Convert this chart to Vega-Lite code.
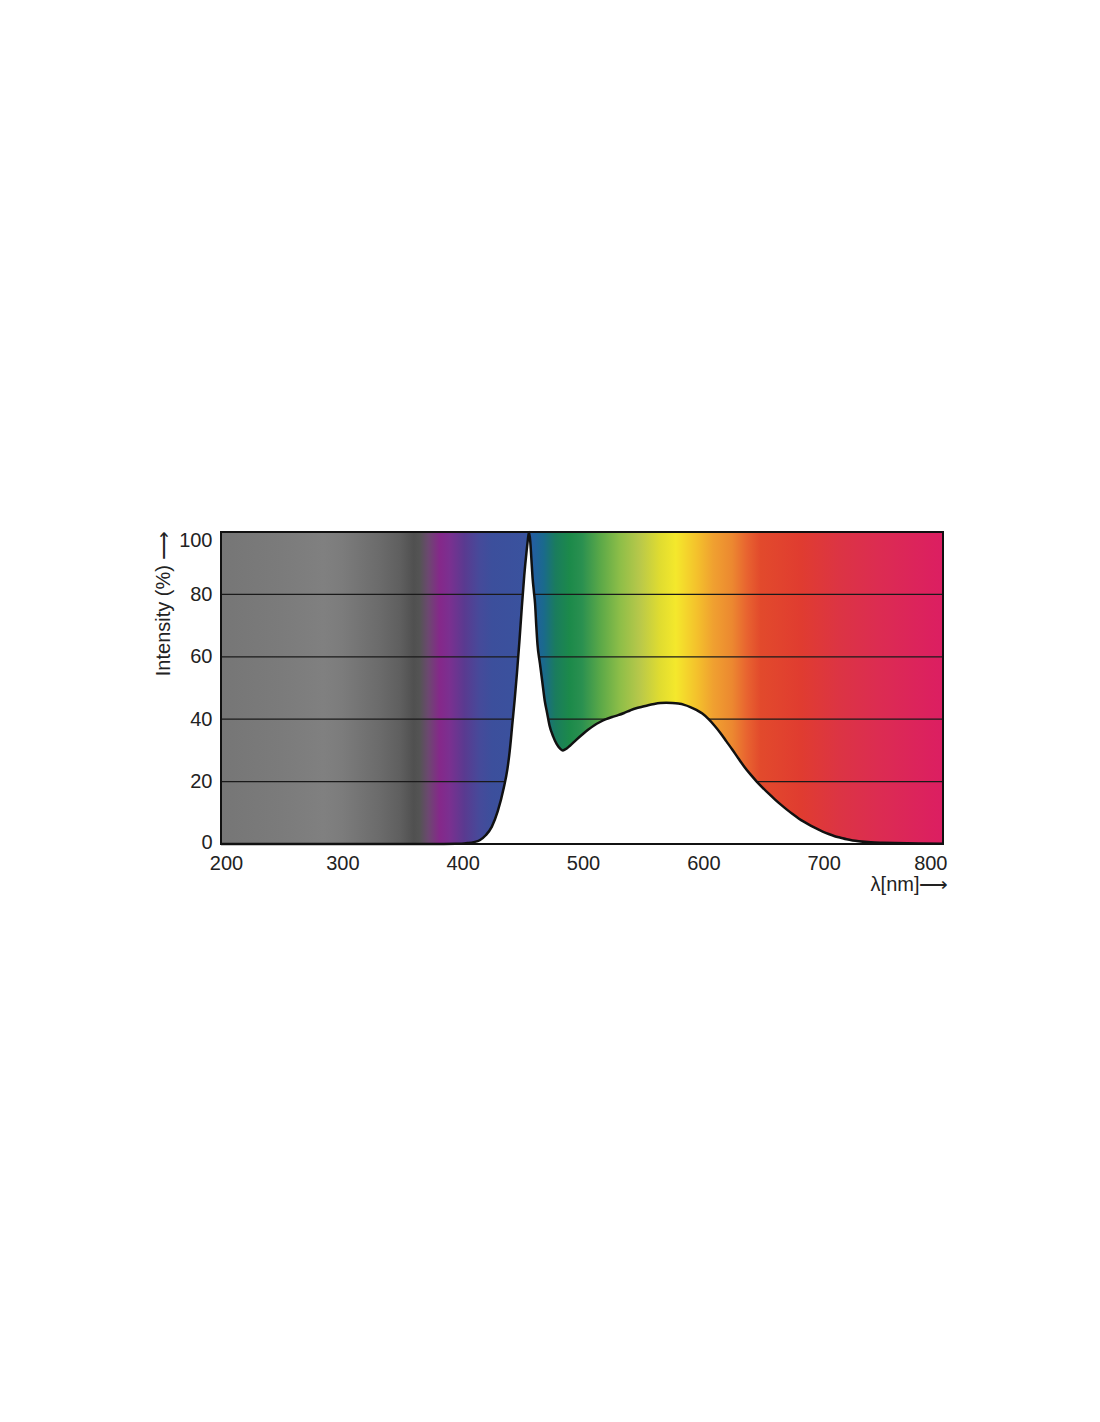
{
  "$schema": "https://vega.github.io/schema/vega-lite/v6.json",
  "width": 722,
  "height": 312,
  "autosize": {"type": "none"},
  "padding": {"left": 221, "top": 532, "right": 157, "bottom": 578},
  "background": "white",
  "config": {
    "view": {"stroke": null},
    "font": "Liberation Sans",
    "axis": {"labelFont": "Liberation Sans", "titleFont": "Liberation Sans", "labelColor": "#222", "titleColor": "#222", "labelFontSize": 20, "titleFontSize": 20, "titleFontWeight": "normal", "grid": false, "ticks": false, "domain": false}
  },
  "datasets": {
    "frame": [{"x0": 200, "x1": 800, "y0": 0, "y1": 100}],
    "grid": [{"v": 20}, {"v": 40}, {"v": 60}, {"v": 80}],
    "spectrum": [
      {"nm": 200, "pct": 0}, {"nm": 380, "pct": 0}, {"nm": 395, "pct": 0.05}, {"nm": 400, "pct": 0.1},
      {"nm": 405, "pct": 0.3}, {"nm": 410, "pct": 0.6}, {"nm": 415, "pct": 1.2}, {"nm": 420, "pct": 2.8},
      {"nm": 425, "pct": 5.5}, {"nm": 430, "pct": 10.5}, {"nm": 435, "pct": 18}, {"nm": 438, "pct": 24},
      {"nm": 440, "pct": 30}, {"nm": 442, "pct": 38}, {"nm": 444, "pct": 46}, {"nm": 446, "pct": 55},
      {"nm": 448, "pct": 65}, {"nm": 450, "pct": 76}, {"nm": 452, "pct": 86}, {"nm": 454, "pct": 94},
      {"nm": 455, "pct": 97.5}, {"nm": 456, "pct": 100}, {"nm": 457, "pct": 97}, {"nm": 458, "pct": 91},
      {"nm": 459, "pct": 85}, {"nm": 460, "pct": 81}, {"nm": 461, "pct": 77}, {"nm": 462, "pct": 70},
      {"nm": 463, "pct": 64}, {"nm": 465, "pct": 58}, {"nm": 467, "pct": 52}, {"nm": 469, "pct": 46},
      {"nm": 471, "pct": 42}, {"nm": 473, "pct": 38}, {"nm": 476, "pct": 34.5}, {"nm": 479, "pct": 32},
      {"nm": 482, "pct": 30.5}, {"nm": 484, "pct": 30}, {"nm": 486, "pct": 30.3}, {"nm": 490, "pct": 31.5},
      {"nm": 495, "pct": 33.3}, {"nm": 500, "pct": 35}, {"nm": 505, "pct": 36.6}, {"nm": 510, "pct": 38},
      {"nm": 515, "pct": 39.1}, {"nm": 520, "pct": 40}, {"nm": 525, "pct": 40.7}, {"nm": 530, "pct": 41.3},
      {"nm": 535, "pct": 42}, {"nm": 540, "pct": 42.8}, {"nm": 545, "pct": 43.5}, {"nm": 550, "pct": 44},
      {"nm": 555, "pct": 44.5}, {"nm": 560, "pct": 44.9}, {"nm": 565, "pct": 45.2}, {"nm": 570, "pct": 45.3},
      {"nm": 575, "pct": 45.2}, {"nm": 580, "pct": 45}, {"nm": 585, "pct": 44.6}, {"nm": 590, "pct": 43.9},
      {"nm": 595, "pct": 43}, {"nm": 600, "pct": 41.8}, {"nm": 605, "pct": 40.1}, {"nm": 610, "pct": 38},
      {"nm": 615, "pct": 35.6}, {"nm": 620, "pct": 32.9}, {"nm": 625, "pct": 30.2}, {"nm": 630, "pct": 27.4},
      {"nm": 635, "pct": 24.7}, {"nm": 640, "pct": 22.3}, {"nm": 645, "pct": 20.1}, {"nm": 650, "pct": 18.1},
      {"nm": 655, "pct": 16.2}, {"nm": 660, "pct": 14.4}, {"nm": 665, "pct": 12.7}, {"nm": 670, "pct": 11.1},
      {"nm": 675, "pct": 9.6}, {"nm": 680, "pct": 8.2}, {"nm": 685, "pct": 7}, {"nm": 690, "pct": 5.9},
      {"nm": 695, "pct": 4.9}, {"nm": 700, "pct": 4}, {"nm": 705, "pct": 3.2}, {"nm": 710, "pct": 2.5},
      {"nm": 715, "pct": 2}, {"nm": 720, "pct": 1.5}, {"nm": 725, "pct": 1.15}, {"nm": 730, "pct": 0.9},
      {"nm": 740, "pct": 0.55}, {"nm": 750, "pct": 0.4}, {"nm": 760, "pct": 0.3}, {"nm": 780, "pct": 0.15},
      {"nm": 800, "pct": 0.05}
    ]
  },
  "layer": [
    {
      "data": {"name": "frame"},
      "mark": {
        "type": "rect",
        "fill": {
          "gradient": "linear", "x1": 0, "y1": 0, "x2": 1, "y2": 0,
          "stops": [
            {"offset": 0, "color": "#767676"},
            {"offset": 0.083, "color": "#7b7b7b"},
            {"offset": 0.142, "color": "#808080"},
            {"offset": 0.167, "color": "#7c7c7c"},
            {"offset": 0.192, "color": "#747474"},
            {"offset": 0.22, "color": "#6b6b6b"},
            {"offset": 0.248, "color": "#5f5f5f"},
            {"offset": 0.267, "color": "#505050"},
            {"offset": 0.275, "color": "#545454"},
            {"offset": 0.287, "color": "#6c4870"},
            {"offset": 0.303, "color": "#85288a"},
            {"offset": 0.317, "color": "#7a3090"},
            {"offset": 0.337, "color": "#5a3a90"},
            {"offset": 0.358, "color": "#464a9a"},
            {"offset": 0.375, "color": "#3c4f9c"},
            {"offset": 0.42, "color": "#3a529e"},
            {"offset": 0.433, "color": "#2260a0"},
            {"offset": 0.447, "color": "#1a6a8c"},
            {"offset": 0.463, "color": "#1a7c5e"},
            {"offset": 0.483, "color": "#1c8a4a"},
            {"offset": 0.5, "color": "#2a9050"},
            {"offset": 0.525, "color": "#5aa848"},
            {"offset": 0.553, "color": "#8ebe48"},
            {"offset": 0.58, "color": "#b8c84a"},
            {"offset": 0.608, "color": "#e0dc30"},
            {"offset": 0.63, "color": "#f4e82c"},
            {"offset": 0.66, "color": "#f4c02c"},
            {"offset": 0.682, "color": "#f0a030"},
            {"offset": 0.708, "color": "#ec8830"},
            {"offset": 0.728, "color": "#e86430"},
            {"offset": 0.747, "color": "#e24a2c"},
            {"offset": 0.803, "color": "#e03c30"},
            {"offset": 0.857, "color": "#dc3444"},
            {"offset": 0.912, "color": "#dc2c52"},
            {"offset": 1, "color": "#dc1e62"}
          ]
        }
      },
      "encoding": {
        "x": {"field": "x0", "type": "quantitative", "scale": {"domain": [200, 800], "nice": false},
          "axis": {"values": [200, 300, 400, 500, 600, 700, 800], "title": "λ[nm]⟶", "labelPadding": 9,
            "labelAlign": {"condition": {"test": "datum.value == 800", "value": "right"}, "value": "center"},
            "labelOffset": {"condition": [{"test": "datum.value == 800", "value": 4}, {"test": "datum.value == 200", "value": 5}], "value": 1},
            "titleAnchor": "end", "titleAlign": "right", "titleX": 727, "titleY": 46, "titleBaseline": "alphabetic"}},
        "x2": {"field": "x1"},
        "y": {"field": "y0", "type": "quantitative", "scale": {"domain": [0, 100], "nice": false},
          "axis": {"values": [0, 20, 40, 60, 80, 100], "title": "Intensity (%) ⟶", "labelPadding": 9,
            "labelBaseline": {"condition": {"test": "datum.value == 100", "value": "top"}, "value": "middle"},
            "labelOffset": {"condition": [{"test": "datum.value == 100", "value": -2}, {"test": "datum.value == 0", "value": -2}], "value": 0},
            "titleAnchor": "end", "titleAlign": "right", "titleX": -58, "titleY": -2, "titleBaseline": "middle", "titleAngle": -90}},
        "y2": {"field": "y1"}
      }
    },
    {
      "data": {"name": "grid"},
      "mark": {"type": "rule", "color": "#1a1a1a", "strokeWidth": 1.2},
      "encoding": {"y": {"field": "v", "type": "quantitative"}}
    },
    {
      "data": {"name": "spectrum"},
      "mark": {"type": "area", "fill": "white", "opacity": 1, "fillOpacity": 1, "interpolate": "monotone", "line": {"stroke": "#111", "strokeWidth": 2.5, "interpolate": "monotone"}},
      "encoding": {
        "x": {"field": "nm", "type": "quantitative"},
        "y": {"field": "pct", "type": "quantitative"}
      }
    },
    {
      "data": {"name": "frame"},
      "mark": {"type": "rect", "filled": false, "stroke": "#111", "strokeWidth": 2},
      "encoding": {
        "x": {"field": "x0", "type": "quantitative"},
        "x2": {"field": "x1"},
        "y": {"field": "y0", "type": "quantitative"},
        "y2": {"field": "y1"}
      }
    }
  ]
}
